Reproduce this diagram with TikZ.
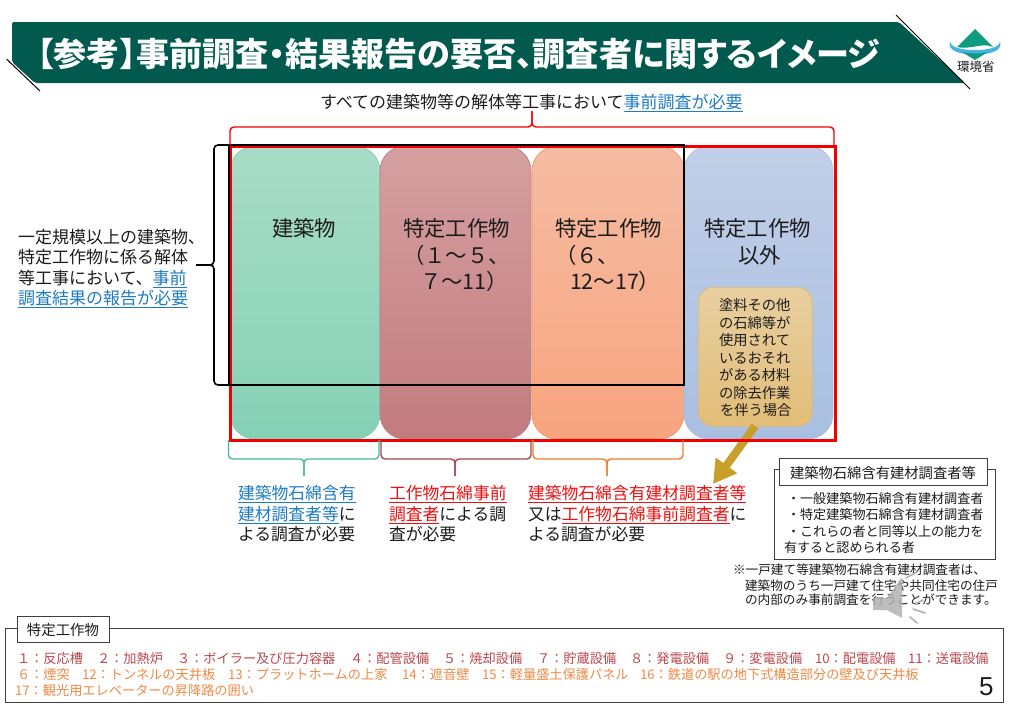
\documentclass[tikz,border=0pt]{standalone}
\usepackage{fontspec}
\setmainfont{Noto Sans CJK JP}
\newfontfamily\latinf{Liberation Sans}
\newfontfamily\titlef[RawFeature=+palt]{Noto Sans CJK JP}
\usetikzlibrary{arrows.meta,calc}
\definecolor{bannerc}{HTML}{025A4E}
\definecolor{linkb}{HTML}{1F7CC4}
\definecolor{redt}{HTML}{F01010}
\definecolor{inkc}{HTML}{1C1C1C}
\definecolor{framered}{HTML}{F20000}
\definecolor{brgreen}{HTML}{45BC96}
\definecolor{brred}{HTML}{A8434A}
\definecolor{brorange}{HTML}{ED7D31}
\definecolor{goldA}{HTML}{E8CFA0}
\definecolor{goldB}{HTML}{E2BD78}
\definecolor{goldd}{HTML}{C99F2C}
\definecolor{listred}{HTML}{B9484E}
\definecolor{listor}{HTML}{EE8A45}
\definecolor{gA}{HTML}{A8DCC8}\definecolor{gB}{HTML}{85D1B6}
\definecolor{rA}{HTML}{D6A0A0}\definecolor{rB}{HTML}{C27B7F}
\definecolor{oA}{HTML}{F6BCA3}\definecolor{oB}{HTML}{F7A47F}
\definecolor{bA}{HTML}{C1CFE8}\definecolor{bB}{HTML}{A9BFE1}
\definecolor{teallogo}{HTML}{0F9B7D}
\definecolor{bluelogo}{HTML}{45B4E0}
\tikzset{
  x=1pt,y=-1pt,
  lbl/.style={anchor=base west,inner sep=0pt,outer sep=0pt,text=inkc},
  colbox/.style={anchor=north west,inner sep=0pt,outer sep=0pt,rounded corners=25pt,minimum height=293pt,line width=.7pt},
  whitebox/.style={draw=black!75,fill=white,line width=.9pt,inner sep=0pt,outer sep=0pt,anchor=north west},
  bracec/.style={line width=#1,rounded corners=4pt},
}
\newcommand{\fz}[1]{\fontsize{#1}{#1}\selectfont}
\newcommand{\tx}[5]{\pgfmathsetmacro\yb{#3+0.36*#4}\node[lbl,font=\fz{#4}] (#1) at (#2,\yb) {#5};}
\newcommand{\ub}[1]{\textcolor{linkb}{\underline{#1}}}
\newcommand{\ur}[1]{\textcolor{redt}{\underline{#1}}}
\begin{document}
\begin{tikzpicture}
\useasboundingbox (0,0) rectangle (1015,713);
\fill[white] (0,0) rectangle (1015,713);
% banner
\fill[bannerc,rounded corners=2pt] (12,22) -- (899,22) -- (965,83) -- (35,83) -- (12,62) -- cycle;
\draw[black,line width=1pt] (896,15) -- (970,89);
\draw[black,line width=1pt] (6.5,59) -- (40,91);
\node[anchor=base west,inner sep=0pt,text=white,font=\titlef\fz{33}\bfseries] (title) at (37,66) {\resizebox{843pt}{\height}{【参考】事前調査・結果報告の要否、調査者に関するイメージ}};
% logo
\fill[bluelogo] (950,41) .. controls (947,50) and (958,55) .. (975,54) .. controls (992,55) and (1003,50) .. (1000,41) .. controls (1000,47) and (990,50) .. (975,50) .. controls (960,50) and (950,47) .. (950,41) -- cycle;
\fill[teallogo] (975,29) -- (993,47) .. controls (982,42) and (972,50) .. (957,47) -- cycle;
\fill[teallogo] (962,52) .. controls (972,54) and (982,54) .. (988,52) -- (975,60) -- cycle;
\tx{logot}{957}{67}{12.500}{環境省}
% top text
\tx{toptext}{320}{102}{17}{すべての建築物等の解体等工事において\ub{事前調査が必要}}
% columns
\node[colbox,minimum width=150pt,draw=brgreen!70,top color=gA,bottom color=gB] (c1) at (230,146) {};
\node[colbox,minimum width=151pt,draw=brred!70,top color=rA,bottom color=rB] (c2) at (380,146) {};
\node[colbox,minimum width=152pt,draw=brorange!80,top color=oA,bottom color=oB] (c3) at (532,146) {};
\node[colbox,minimum width=149pt,draw=bB,top color=bA,bottom color=bB] (c4) at (684,146) {};
% gold box and arrow
\node[anchor=north west,inner sep=0pt,minimum width=114pt,minimum height=139pt,rounded corners=15pt,top color=goldA,bottom color=goldB,draw=goldd!70,line width=.7pt] (gold) at (698,287) {};
\coordinate (arrowtip) at (713,484);
\draw[goldd,line width=8pt,-{Triangle[length=23pt,width=25pt]}] (755,426) -- (arrowtip);
% frames
\node[anchor=north west,inner sep=0pt,minimum width=605pt,minimum height=294pt,draw=framered,line width=3pt] (redframe) at (229,145) {};
\draw[black,line width=1.6pt] (229,145) rectangle (684,385);
\draw[black,line width=1.6pt,rounded corners=4pt] (229,145) -- (214,145) -- (214,265) -- (196,265);
\draw[black,line width=1.6pt,rounded corners=4pt] (229,385) -- (214,385) -- (214,265) -- (196,265);
% braces
\draw[framered,bracec=1.4pt] (230,145) -- (230,127) -- (532,127) -- (532,111);
\draw[framered,bracec=1.4pt] (834,145) -- (834,127) -- (532,127) -- (532,111);
\draw[brgreen,bracec=1.4pt] (228.500,440) -- (228.500,459) -- (304,459) -- (304,476);
\draw[brgreen,bracec=1.4pt] (379,440) -- (379,459) -- (304,459) -- (304,476);
\draw[brred,bracec=1.4pt] (381,440) -- (381,459) -- (455,459) -- (455,476);
\draw[brred,bracec=1.4pt] (531,440) -- (531,459) -- (455,459) -- (455,476);
\draw[brorange,bracec=1.4pt] (533,440) -- (533,459) -- (607,459) -- (607,476);
\draw[brorange,bracec=1.4pt] (683,440) -- (683,459) -- (607,459) -- (607,476);
% column labels
\tx{l1}{272}{229}{21.400}{建築物}
\tx{l2a}{403}{229}{21.400}{特定工作物}
\tx{l2b}{403}{256}{21.400}{（１～５、}
\tx{l2c}{420}{282}{21.400}{７～11）}
\tx{l3a}{555}{229}{21.400}{特定工作物}
\tx{l3b}{555}{256}{21.400}{（６、}
\tx{l3c}{570}{282}{21.400}{12～17）}
\tx{l4a}{704}{229}{21.400}{特定工作物}
\tx{l4b}{738}{256}{21.400}{以外}
\foreach \n/\xx/\yy/\s in {g1/719/305/塗料その他,g2/719/323/の石綿等が,g3/719/340/使用されて,g4/719/358/いるおそれ,g5/719/375/がある材料,g6/719/393/の除去作業,g7/720/410/を伴う場合}{
  \tx{\n}{\xx}{\yy}{14.300}{\s}
}
% left text
\tx{le1}{18}{237}{17}{一定規模以上の建築物、}
\tx{le2}{18}{257}{17}{特定工作物に係る解体}
\tx{le3}{18}{278}{17}{等工事において、\ub{事前}}
\tx{le4}{18}{298}{17}{\ub{調査結果の報告が必要}}
% under-column text
\tx{u1a}{238}{493}{16.800}{\ub{建築物石綿含有}}
\tx{u1b}{238}{514}{16.800}{\ub{建材調査者等}に}
\tx{u1c}{238}{534}{16.800}{よる調査が必要}
\tx{u2a}{389}{493}{16.800}{\ur{工作物石綿事前}}
\tx{u2b}{389}{514}{16.800}{\ur{調査者}による調}
\tx{u2c}{389}{534}{16.800}{査が必要}
\tx{u3a}{528}{493}{16.800}{\ur{建築物石綿含有建材調査者等}}
\tx{u3b}{528}{514}{16.800}{又は\ur{工作物石綿事前調査者}に}
\tx{u3c}{528}{534}{16.800}{よる調査が必要}
% inspector box
\node[whitebox,minimum width=221pt,minimum height=90pt] (insp) at (774,469) {};
\node[whitebox,minimum width=208pt,minimum height=27pt] (insphead) at (779,458) {};
\tx{ih}{790}{473}{14.300}{建築物石綿含有建材調査者等}
\tx{i1}{787}{499}{13.100}{・一般建築物石綿含有建材調査者}
\tx{i2}{787}{515}{13.100}{・特定建築物石綿含有建材調査者}
\tx{i3}{787}{532}{13.100}{・これらの者と同等以上の能力を}
\tx{i4}{784}{548}{13.100}{有すると認められる者}
% note
\tx{n1}{733}{570}{12.650}{※一戸建て等建築物石綿含有建材調査者は、}
\tx{n2}{745}{586}{12.650}{建築物のうち一戸建て住宅や共同住宅の住戸}
\tx{n3}{745}{600}{12.650}{の内部のみ事前調査を行うことができます。}
% speaker icon
\fill[gray!60,opacity=.85] (873,598) -- (887,598) -- (902,577) -- (902,618) -- (887,610) -- (873,610) -- cycle;
\draw[gray!60,line width=1.6pt,line cap=round] (915,604) -- (923,600) (913,609) -- (925,613) (910,617) -- (917,623) (906,578) -- (917,572);
% bottom list
\node[whitebox,minimum width=998pt,minimum height=74pt] (listbox) at (5,628) {};
\node[whitebox,minimum width=92pt,minimum height=26pt] (listhead) at (17,616) {};
\tx{lh}{27}{630}{14.400}{特定工作物}
\foreach \n/\xx/\s in {a1/17/１：反応槽,a2/97/２：加熱炉,a3/177/３：ボイラー及び圧力容器,a4/350/４：配管設備,a5/443/５：焼却設備,a7/537/７：貯蔵設備,a8/630/８：発電設備,a9/723/９：変電設備,a10/815/10：配電設備,a11/908/11：送電設備}{
  \tx{\n}{\xx}{659}{13.200}{\textcolor{listred}{\s}}
}
\foreach \n/\xx/\s in {b6/17/６：煙突,b12/82/12：トンネルの天井板,b13/228/13：プラットホームの上家,b14/402/14：遮音壁,b15/482/15：軽量盛土保護パネル,b16/640/16：鉄道の駅の地下式構造部分の壁及び天井板}{
  \tx{\n}{\xx}{675}{13.200}{\textcolor{listor}{\s}}
}
\tx{c17}{15}{691}{13.200}{\textcolor{listor}{17：観光用エレベーターの昇降路の囲い}}
\node[lbl,font=\latinf\fz{26}] (pageno) at (979,695) {5};
\end{tikzpicture}
\end{document}
